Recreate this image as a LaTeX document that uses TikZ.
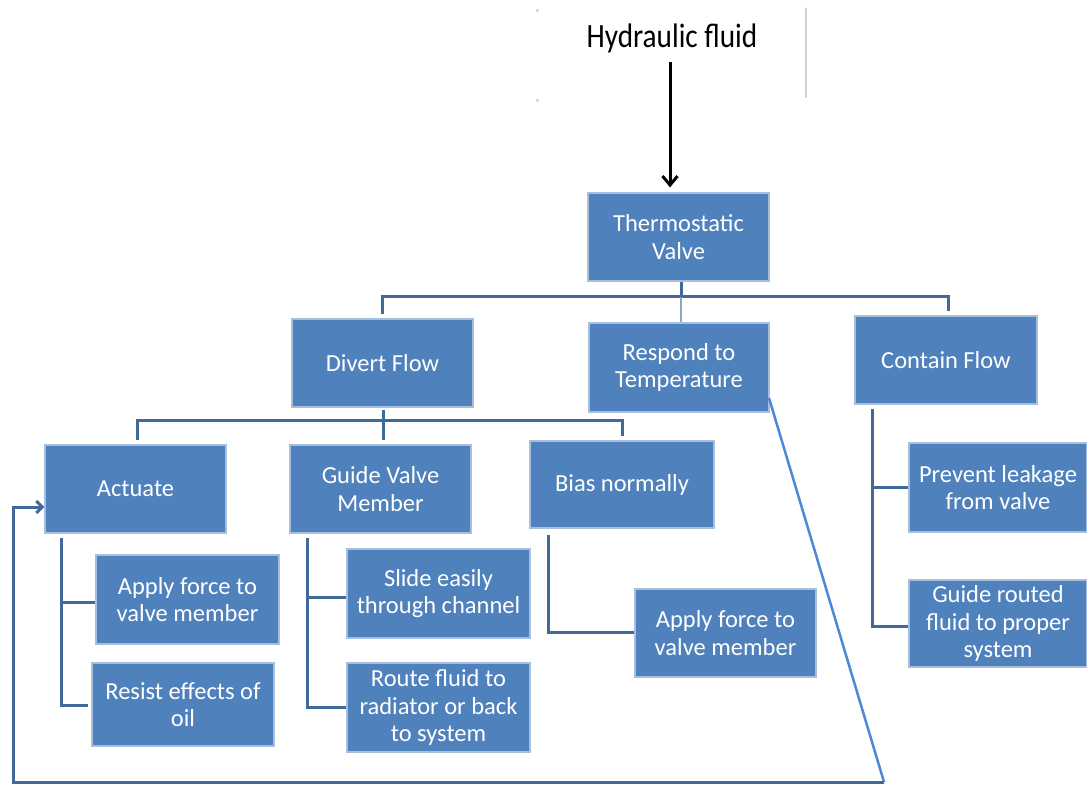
\documentclass[tikz,border=0pt]{standalone}
\usepackage{fontspec}
\setmainfont{Carlito}
\usetikzlibrary{arrows.meta}
\definecolor{boxfill}{HTML}{4F81BD}
\definecolor{boxline}{HTML}{A7BEDD}
\definecolor{conn}{HTML}{41699A}
\definecolor{diag}{HTML}{4C88D6}
\tikzset{
  fbox/.style={draw=boxline, line width=1.2pt, fill=boxfill, text=white, align=center,
    font=\fontsize{24.5}{27.5}\selectfont, inner sep=1pt},
  cn/.style={draw=conn, line width=3pt},
}
\newcommand{\bx}[6]{\node[fbox, minimum width=#4-#2, minimum height=#5-#3] (#1) at ({(#2+#4)/2},{(#3+#5)/2}) {#6};}
\begin{document}
\begin{tikzpicture}[x=1pt,y=-1pt]
\useasboundingbox (0,0) rectangle (1087,786);
% top label and arrow
\node[font=\fontsize{34}{38}\selectfont\addfontfeature{FakeStretch=0.86}, text=black] (hf) at (672,38) {Hydraulic fluid};
\draw[gray!35, line width=2pt] (806,8) -- (806,98);
\fill[gray!30] (536,9) rectangle (539,12);
\fill[gray!30] (536,99) rectangle (539,102);
% boxes
\bx{tv}{588}{193}{769}{281}{Thermostatic\\Valve}
\bx{df}{292}{319}{473}{407}{Divert Flow}
\bx{rt}{589}{323}{769}{412}{Respond to\\Temperature}
\bx{cf}{855}{316}{1037}{404}{Contain Flow}
\bx{ac}{45}{445}{226}{533}{Actuate}
\bx{gv}{290}{445}{471}{533}{Guide Valve\\Member}
\bx{bn}{530}{441}{714}{528}{Bias normally}
\bx{af1}{96}{555}{279}{644}{Apply force to\\valve member}
\bx{re}{92}{663}{274}{746}{Resist effects of\\oil}
\bx{se}{347}{549}{530}{638}{Slide easily\\through channel}
\bx{rf}{347}{663}{530}{752}{Route fluid to\\radiator or back\\to system}
\bx{af2}{635}{589}{816}{677}{Apply force to\\valve member}
\bx{pl}{909}{443}{1087}{532}{Prevent leakage\\from valve}
\bx{gr}{909}{580}{1087}{667}{Guide routed\\fluid to proper\\system}
% input arrow
\coordinate (as) at (670,62);
\coordinate (ae) at ([yshift=5pt]tv.north -| as);
\draw[line width=3pt, -{Straight Barb[length=9pt,width=15pt,line width=3pt]}] (as) -- (ae);
% level 1 connectors
\coordinate (j1) at (681,297);
\draw[cn] (tv.south -| j1) -- (j1);
\draw[cn] (382,297) -- (948,297);
\draw[cn] (382,295.5) -- (382,314);
\draw[cn] (948,295.5) -- (948,311);
\draw[draw=conn!60, line width=2.5pt] (j1) -- (rt.north -| j1);
% level 2 connectors under Divert Flow
\draw[cn] (383,410) -- (383,420);
\draw[cn] (137,420) -- (622,420);
\draw[cn] (137,418.5) -- (137,440);
\draw[cn] (383,418.5) -- (383,440);
\draw[cn] (622,418.5) -- (622,436);
% Actuate children
\draw[cn] (61,538) -- (61,705) -- (88,705);
\draw[cn] (61,602) -- (af1.west |- 0,602);
% Guide valve children
\draw[cn] (307,538) -- (307,707) -- (rf.west |- 0,707);
\draw[cn] (307,597) -- (se.west |- 0,597);
% Bias normally child
\draw[cn] (548,535) -- (548,632) -- (af2.west |- 0,632);
% Contain flow children
\draw[cn] (872,409) -- (872,626) -- (gr.west |- 0,626);
\draw[cn] (872,487) -- (pl.west |- 0,487);
% feedback loop
\coordinate (bt) at (884,782);
\draw[draw=diag, line width=2.5pt] (769,398) -- (bt);
\draw[cn, -{Straight Barb[length=6pt,width=12pt]}] (bt) -- (13,782) -- (13,507) -- (ac.west |- 0,507);
\end{tikzpicture}
\end{document}
